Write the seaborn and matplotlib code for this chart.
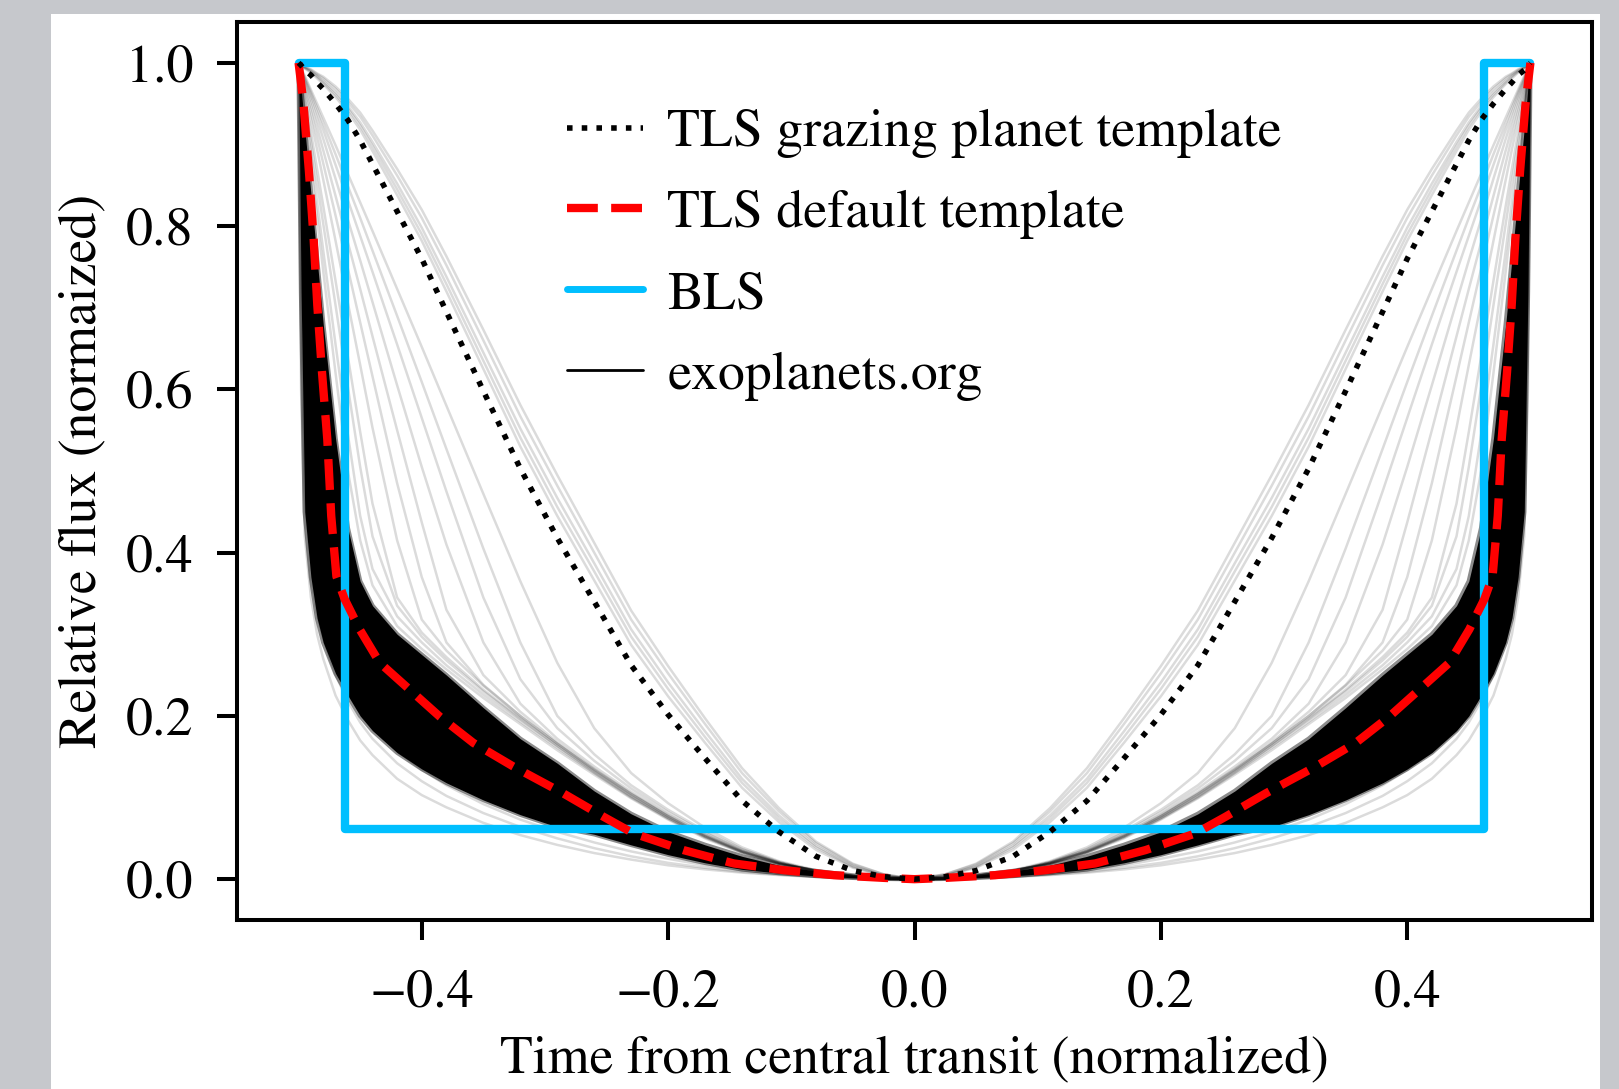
import numpy as np
import pandas as pd
import matplotlib
matplotlib.use("Agg")
import matplotlib.pyplot as plt
from matplotlib.lines import Line2D
from matplotlib.patches import Rectangle
import seaborn as sns

# ---------------- data (left half of the symmetric transit; right half mirrored) ----------------
grid_x = [-0.500, -0.498, -0.495, -0.490, -0.485, -0.480, -0.470, -0.460, -0.450, -0.440,
          -0.420, -0.400, -0.380, -0.350, -0.320, -0.290, -0.260, -0.230, -0.200, -0.170,
          -0.140, -0.110, -0.080, -0.050, -0.025, 0.000]

# TLS grazing planet template (dotted)
grazing_y = [1.0, 0.997, 0.991, 0.985, 0.976, 0.968, 0.950, 0.930, 0.905, 0.876,
             0.818, 0.760, 0.695, 0.598, 0.503, 0.418, 0.340, 0.262, 0.2015, 0.148,
             0.096, 0.058, 0.028, 0.0105, 0.003, 0.0]

# TLS default template (red dashed)
default_x = [-0.5, -0.498, -0.496, -0.4916, -0.4878, -0.4848, -0.481, -0.4767, -0.4735, -0.4693,
             -0.4626, -0.4504, -0.4341, -0.4097, -0.3853, -0.3582, -0.3257, -0.285, -0.2525, -0.228,
             -0.1875, -0.1468, -0.106, -0.0655, -0.0248, 0.0]
default_y = [1.0, 0.975, 0.949, 0.867, 0.785, 0.703, 0.621, 0.539, 0.445, 0.371,
             0.343, 0.306, 0.265, 0.232, 0.199, 0.167, 0.138, 0.105, 0.0765, 0.056,
             0.0356, 0.0193, 0.011, 0.0049, 0.0016, 0.0]

# BLS box
bls_x = [-0.5, -0.462, -0.462, 0.462, 0.462, 0.5]
bls_y = [1.0, 1.0, 0.062, 0.062, 1.0, 1.0]

# exoplanets.org: dense core envelope (lower / upper edge)
core_low = [1.0, 0.72, 0.45, 0.37, 0.32, 0.29, 0.252, 0.225, 0.200, 0.182,
            0.155, 0.135, 0.118, 0.097, 0.079, 0.064, 0.055, 0.042, 0.030, 0.020,
            0.012, 0.0075, 0.004, 0.0017, 0.0005, 0.0]
core_high = [1.0, 0.97, 0.92, 0.84, 0.76, 0.68, 0.54, 0.43, 0.365, 0.335,
             0.300, 0.275, 0.250, 0.210, 0.172, 0.142, 0.108, 0.080, 0.058, 0.042,
             0.028, 0.017, 0.010, 0.0045, 0.0012, 0.0]

# exoplanets.org: individual fainter light curves
exo_curves = {
    "b1": [1.0, 0.60, 0.42, 0.345, 0.30, 0.27, 0.225, 0.195, 0.17, 0.152, 0.123, 0.103, 0.088,
           0.069, 0.054, 0.042, 0.032, 0.024, 0.017, 0.012, 0.008, 0.005, 0.0027, 0.0012, 0.0004, 0.0],
    "b2": [1.0, 0.68, 0.47, 0.37, 0.325, 0.295, 0.25, 0.218, 0.192, 0.172, 0.142, 0.12, 0.102,
           0.081, 0.064, 0.05, 0.038, 0.028, 0.02, 0.014, 0.009, 0.0055, 0.003, 0.0013, 0.0004, 0.0],
    "b3": [1.0, 0.75, 0.52, 0.40, 0.345, 0.31, 0.265, 0.232, 0.206, 0.186, 0.157, 0.134, 0.115,
           0.092, 0.073, 0.058, 0.045, 0.034, 0.025, 0.017, 0.011, 0.0067, 0.0035, 0.0015, 0.0004, 0.0],
    "f0": [1.0, 0.972, 0.935, 0.872, 0.81, 0.745, 0.62, 0.5, 0.415, 0.36, 0.31, 0.282, 0.257,
           0.222, 0.19, 0.158, 0.128, 0.099, 0.073, 0.05, 0.032, 0.019, 0.0093, 0.0037, 0.001, 0.0],
    "f1": [1.0, 0.978, 0.945, 0.89, 0.83, 0.77, 0.655, 0.545, 0.445, 0.38, 0.322, 0.29, 0.262,
           0.226, 0.193, 0.161, 0.13, 0.1, 0.074, 0.051, 0.033, 0.019, 0.0095, 0.0038, 0.001, 0.0],
    "f1b": [1.0, 0.98, 0.952, 0.903, 0.853, 0.803, 0.703, 0.603, 0.505, 0.42, 0.335, 0.297, 0.268,
            0.23, 0.196, 0.163, 0.131, 0.101, 0.075, 0.052, 0.033, 0.019, 0.0095, 0.0038, 0.001, 0.0],
    "f2": [1.0, 0.983, 0.958, 0.915, 0.87, 0.825, 0.733, 0.64, 0.548, 0.46, 0.345, 0.302, 0.272,
           0.232, 0.197, 0.164, 0.132, 0.102, 0.075, 0.052, 0.033, 0.019, 0.0095, 0.0038, 0.001, 0.0],
    "f3": [1.0, 0.986, 0.965, 0.93, 0.894, 0.857, 0.782, 0.706, 0.63, 0.553, 0.415, 0.318, 0.28,
           0.237, 0.2, 0.166, 0.134, 0.104, 0.077, 0.053, 0.034, 0.02, 0.01, 0.004, 0.001, 0.0],
    "f4": [1.0, 0.988, 0.97, 0.94, 0.909, 0.877, 0.813, 0.748, 0.682, 0.616, 0.485, 0.37, 0.29,
           0.238, 0.2, 0.166, 0.134, 0.104, 0.077, 0.053, 0.034, 0.02, 0.01, 0.004, 0.001, 0.0],
    "f5": [1.0, 0.99, 0.975, 0.948, 0.921, 0.893, 0.837, 0.78, 0.723, 0.665, 0.55, 0.437, 0.33,
           0.25, 0.205, 0.168, 0.135, 0.105, 0.078, 0.054, 0.034, 0.02, 0.01, 0.004, 0.001, 0.0],
    "f6": [1.0, 0.991, 0.978, 0.955, 0.931, 0.907, 0.858, 0.808, 0.758, 0.707, 0.605, 0.505, 0.41,
           0.29, 0.215, 0.172, 0.138, 0.107, 0.079, 0.055, 0.035, 0.02, 0.01, 0.004, 0.001, 0.0],
    "f7": [1.0, 0.992, 0.98, 0.96, 0.939, 0.918, 0.875, 0.832, 0.788, 0.744, 0.655, 0.565, 0.475,
           0.345, 0.245, 0.185, 0.145, 0.111, 0.082, 0.057, 0.036, 0.021, 0.01, 0.004, 0.001, 0.0],
    "f8": [1.0, 0.993, 0.982, 0.964, 0.945, 0.926, 0.888, 0.849, 0.81, 0.77, 0.69, 0.609, 0.527,
           0.405, 0.29, 0.2, 0.153, 0.115, 0.085, 0.059, 0.037, 0.021, 0.01, 0.004, 0.001, 0.0],
    "f9": [1.0, 0.994, 0.984, 0.967, 0.95, 0.933, 0.899, 0.864, 0.829, 0.794, 0.723, 0.652, 0.58,
           0.472, 0.365, 0.265, 0.185, 0.13, 0.093, 0.063, 0.039, 0.022, 0.011, 0.0045, 0.0012, 0.0],
    "n1": [1.0, 0.998, 0.993, 0.988, 0.981, 0.974, 0.958, 0.94, 0.918, 0.892, 0.838, 0.782, 0.72,
           0.625, 0.53, 0.445, 0.366, 0.287, 0.224, 0.167, 0.112, 0.07, 0.036, 0.014, 0.004, 0.0],
    "n1b": [1.0, 0.998, 0.994, 0.989, 0.983, 0.976, 0.961, 0.944, 0.923, 0.898, 0.845, 0.79, 0.729,
            0.635, 0.541, 0.456, 0.377, 0.297, 0.233, 0.174, 0.118, 0.074, 0.039, 0.015, 0.0045, 0.0],
    "n2": [1.0, 0.998, 0.994, 0.99, 0.984, 0.978, 0.964, 0.947, 0.927, 0.903, 0.852, 0.798, 0.738,
           0.645, 0.552, 0.467, 0.387, 0.306, 0.241, 0.181, 0.123, 0.078, 0.041, 0.016, 0.005, 0.0],
    "n3": [1.0, 0.998, 0.995, 0.991, 0.986, 0.981, 0.968, 0.952, 0.934, 0.911, 0.862, 0.81, 0.752,
           0.66, 0.567, 0.482, 0.4, 0.318, 0.252, 0.19, 0.13, 0.083, 0.044, 0.018, 0.006, 0.0],
    "n4": [1.0, 0.998, 0.995, 0.992, 0.987, 0.983, 0.971, 0.956, 0.939, 0.917, 0.87, 0.82, 0.763,
           0.673, 0.581, 0.495, 0.412, 0.329, 0.261, 0.197, 0.136, 0.087, 0.046, 0.019, 0.006, 0.0],
}

x_ticks = [-0.4, -0.2, 0.0, 0.2, 0.4]
y_ticks = [0.0, 0.2, 0.4, 0.6, 0.8, 1.0]
legend_labels = ["TLS grazing planet template", "TLS default template", "BLS", "exoplanets.org"]


def full_x(half):
    h = np.asarray(half, dtype=float)
    return np.concatenate([h, -h[::-1][1:]])


def full_y(half):
    h = np.asarray(half, dtype=float)
    return np.concatenate([h, h[::-1][1:]])


# ---------------- style ----------------
sns.set_theme(style="ticks")
plt.rcParams["font.family"] = ["STIXGeneral", "DejaVu Serif"]
plt.rcParams["mathtext.fontset"] = "stix"
plt.rcParams["axes.unicode_minus"] = True
plt.rcParams["text.color"] = "black"
plt.rcParams["axes.labelcolor"] = "black"
plt.rcParams["xtick.color"] = "black"
plt.rcParams["ytick.color"] = "black"

W, H, DPI = 1619, 1089, 200
fig = plt.figure(figsize=(W / DPI, H / DPI), dpi=DPI)
fig.patch.set_facecolor("#c6c8cc")
fig.add_artist(Rectangle((51 / W, 0), (1600 - 51) / W, (H - 14) / H,
                         transform=fig.transFigure, facecolor="white",
                         edgecolor="none", zorder=-10))

ax = fig.add_axes([237 / W, 1 - 920 / H, (1592 - 237) / W, (920 - 22) / H])
ax.set_facecolor("white")

# exoplanets.org curves (long form, one unit per curve)
rows = []
gx = full_x(grid_x)
for name, ys in exo_curves.items():
    for xv, yv in zip(gx, full_y(ys)):
        rows.append((name, xv, yv))
exo_df = pd.DataFrame(rows, columns=["curve", "time", "flux"])
sns.lineplot(data=exo_df, x="time", y="flux", units="curve", estimator=None, sort=False,
             color="black", alpha=0.14, lw=0.9, legend=False, ax=ax, zorder=1)

# dense core of the exoplanets.org population
ax.fill_between(gx, full_y(core_low), full_y(core_high), color="black", lw=0, zorder=2)
core_df = pd.DataFrame({"time": np.concatenate([gx, gx]),
                        "flux": np.concatenate([full_y(core_low), full_y(core_high)]),
                        "edge": ["low"] * len(gx) + ["high"] * len(gx)})
sns.lineplot(data=core_df, x="time", y="flux", units="edge", estimator=None, sort=False,
             color="black", alpha=0.45, lw=1.6, legend=False, ax=ax, zorder=2)

# BLS box
sns.lineplot(x=bls_x, y=bls_y, sort=False, estimator=None, color="#00bfff", lw=3.0,
             ax=ax, zorder=3, solid_joinstyle="round", solid_capstyle="round")

# TLS default template
sns.lineplot(x=full_x(default_x), y=full_y(default_y), sort=False, estimator=None,
             color="red", lw=3.0, linestyle="--", ax=ax, zorder=4)

# TLS grazing template
sns.lineplot(x=gx, y=full_y(grazing_y), sort=False, estimator=None,
             color="black", lw=2.0, linestyle=":", ax=ax, zorder=5)

ax.set_xlim(-0.55, 0.55)
ax.set_ylim(-0.05, 1.05)
ax.set_xticks(x_ticks)
ax.set_yticks(y_ticks)
ax.set_xticklabels([f"{v:.1f}".replace("-", "\u2212") for v in x_ticks])
ax.set_yticklabels([f"{v:.1f}" for v in y_ticks])
ax.tick_params(axis="both", direction="out", length=7.2, width=1.45, labelsize=19.5,
               color="black", labelcolor="black")
ax.tick_params(axis="x", pad=10.5)
ax.tick_params(axis="y", pad=8.5)
for sp in ax.spines.values():
    sp.set_visible(True)
    sp.set_linewidth(1.45)
    sp.set_color("black")

ax.set_xlabel("Time from central transit (normalized)", fontsize=19.3, color="black")
ax.set_ylabel("Relative flux (normaized)", fontsize=19.3, color="black")
ax.xaxis.set_label_coords(0.5, -0.128)
ax.yaxis.set_label_coords(-0.0953, 0.5)

handles = [
    Line2D([], [], color="black", lw=2.0, linestyle=":"),
    Line2D([], [], color="red", lw=3.0, linestyle="--"),
    Line2D([], [], color="#00bfff", lw=2.5),
    Line2D([], [], color="black", lw=1.0),
]
leg = ax.legend(handles, legend_labels, loc="upper left", bbox_to_anchor=(0.2435, 0.9035),
                frameon=False, fontsize=19.4, handlelength=1.41, handletextpad=0.45,
                labelspacing=0.58, borderpad=0, borderaxespad=0)
for t in leg.get_texts():
    t.set_color("black")

fig.savefig("out.png", dpi=DPI, facecolor=fig.get_facecolor())
